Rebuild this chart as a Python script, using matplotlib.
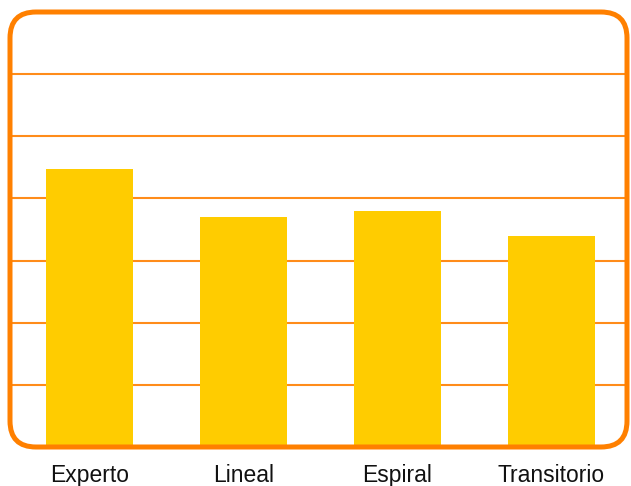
import matplotlib
matplotlib.use("Agg")
import matplotlib.pyplot as plt
from matplotlib.patches import FancyBboxPatch
from matplotlib.transforms import IdentityTransform

categories = ["Experto", "Lineal", "Espiral", "Transitorio"]
values = [4.48, 3.70, 3.80, 3.40]
grid_levels = [1, 2, 3, 4, 5, 6]

W, H = 631, 486
fig = plt.figure(figsize=(W / 100, H / 100), dpi=100)
left_px, right_px, top_px, bot_px = 10, 627, 12, 447
ax = fig.add_axes([left_px / W, (H - bot_px) / H, (right_px - left_px) / W, (bot_px - top_px) / H])

x = list(range(len(categories)))
ax.bar(x, values, width=0.57, color="#FFCC00", zorder=3)
for g in grid_levels:
    ax.axhline(g, color="#FF8C1A", lw=1.5, zorder=2)

ax.set_xlim((left_px - 89.5) / 154, (right_px - 89.5) / 154)
ax.set_ylim(0, 7)
ax.set_xticks(x)
ax.set_xticklabels(categories, fontsize=16.5, family="Liberation Sans", color="#111111")
ax.tick_params(axis="x", length=0, pad=12.5)
ax.set_yticks([])
for s in ax.spines.values():
    s.set_visible(False)

border = FancyBboxPatch((left_px, H - bot_px), right_px - left_px, bot_px - top_px,
                        boxstyle="round,pad=0,rounding_size=26", transform=IdentityTransform(),
                        fill=False, edgecolor="#FF8000", lw=3.6, zorder=10)
fig.patches.append(border)

fig.savefig("out.png", dpi=100)
